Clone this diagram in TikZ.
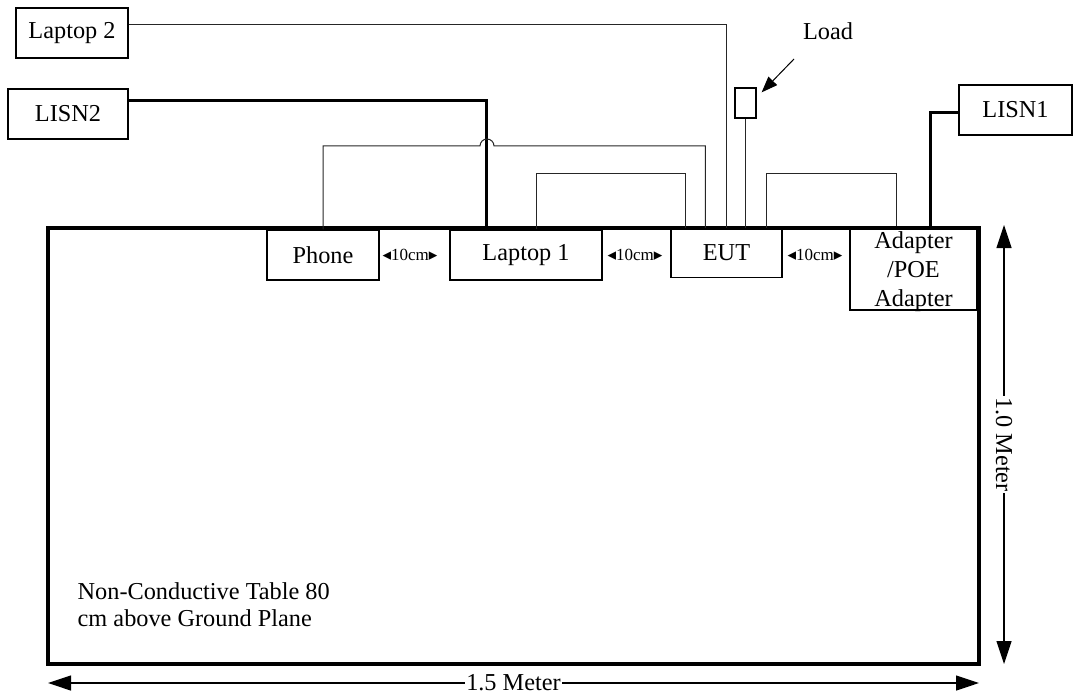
\documentclass[tikz,border=0pt]{standalone}
\usepackage{fontspec}
\setmainfont{Liberation Serif}
\newfontfamily\symfont{DejaVu Sans}
\usetikzlibrary{arrows.meta,calc}
\begin{document}
\begin{tikzpicture}[x=1pt,y=-1pt,
  box/.style={draw,line width=1.3pt,inner sep=0pt,font=\fontsize{24.3}{29}\selectfont,align=center},
  lbl/.style={inner sep=0pt,font=\fontsize{24.3}{27}\selectfont},
  gaplbl/.style={inner sep=0pt,font=\fontsize{17}{19}\selectfont},
  cable/.style={draw=black!85,line width=1pt},
  power/.style={draw=black,line width=3pt},
  dim/.style={line width=1.2pt,{Triangle[length=23pt,width=15pt]}-{Triangle[length=23pt,width=15pt]}},
]
\useasboundingbox (0,0) rectangle (1073,695);
% table
\node[draw,line width=3.3pt,minimum width=931pt,minimum height=436pt,inner sep=0pt] (table) at (513.5,446) {};
% boxes
\node[box,minimum width=112pt,minimum height=50pt] (lap2) at (72,33) {Laptop 2};
\node[box,minimum width=120pt,minimum height=50pt] (lisn2) at (68,114) {LISN2};
\node[box,minimum width=113pt,minimum height=50pt] (lisn1) at (1015.5,110) {LISN1};
\node[box,minimum width=112pt,minimum height=50pt] (phone) at (323,255) {Phone};
\node[box,minimum width=152pt,minimum height=50pt] (lap1) at (526,255) {Laptop 1};
\node[box,minimum width=111pt,minimum height=49pt] (eut) at (726.5,253) {EUT};
\node[box,minimum width=127pt,minimum height=83pt] (adp) at (913.5,268.5) {};
\node[lbl,align=center,font=\fontsize{24.3}{29}\selectfont] (adptext) at (913.5,272) {Adapter\\/POE\\Adapter};
\node[draw,line width=1.3pt,minimum width=21pt,minimum height=30pt,inner sep=0pt] (load) at (745.5,103) {};
% cables
\draw[cable] ($(lap2.east)+(0,-8)$) -| (eut.north);
\draw[power] ($(lisn2.east)+(0,-13)$) -| ($(lap1.north west)+(37,-1)$);
\draw[cable] (phone.north) |- (480,146) arc[start angle=180,end angle=0,radius=7pt] -| ($(eut.north west)+(35,0)$);
\draw[cable] ($(lap1.north)+(10,0)$) |- ($(eut.north west)+(15,-54)$) -- ($(eut.north west)+(15,0)$);
\draw[cable] ($(eut.north east)+(-16,0)$) |- ($(adp.north west)+(47,-53)$) -- ($(adp.north west)+(47,0)$);
\draw[cable] (load.south) -- (load.south |- eut.north);
\draw[power] ($(lisn1.west)+(0,3)$) -| ($(adp.north west)+(81,0)$);
% load label and arrow
\node[lbl,anchor=base] (loadlbl) at (828,40) {Load};
\coordinate (loadtail) at (794,59);
\draw[line width=1pt,-{Triangle[length=16pt,width=12pt]}] (loadtail) -- ($(load.north east)+(5,5)$);
% gaps
\node[gaplbl] (g1) at (410,255) {{\symfont◂}10cm{\symfont▸}};
\node[gaplbl] (g2) at (635,255) {{\symfont◂}10cm{\symfont▸}};
\node[gaplbl] (g3) at (815,255) {{\symfont◂}10cm{\symfont▸}};
% table label
\node[lbl,align=left,anchor=west] (tablelbl) at (77.5,605) {Non-Conductive Table 80\\cm above Ground Plane};
% dimensions
\coordinate (hl) at (48,683);
\coordinate (hr) at (979,683);
\draw[dim] (hl) -- node[lbl,fill=white,inner sep=1pt] (hlbl) {1.5 Meter} (hr);
\coordinate (vt) at (1004,225);
\coordinate (vb) at (1004,664);
\draw[dim] (vt) -- node[lbl,fill=white,inner sep=1pt,rotate=-90] (vlbl) {1.0 Meter} (vb);
\end{tikzpicture}
\end{document}
